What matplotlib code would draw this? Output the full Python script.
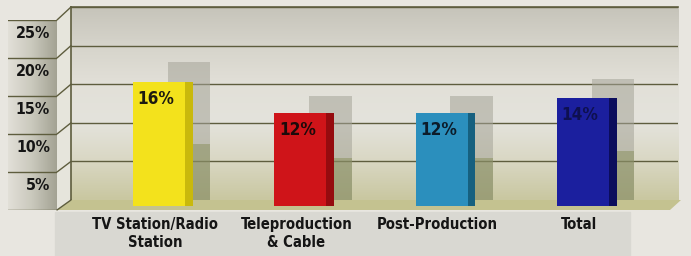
import numpy as np
import matplotlib
matplotlib.use("Agg")
import matplotlib.pyplot as plt
import matplotlib.font_manager as fm
from matplotlib import transforms
from matplotlib.colors import LinearSegmentedColormap
from matplotlib.patches import Polygon, Rectangle, ConnectionPatch

categories = ["TV Station/Radio\nStation", "Teleproduction\n& Cable", "Post-Production", "Total"]
values = [16, 12, 12, 14]
value_labels = ["16%", "12%", "12%", "14%"]
ytick_values = [5, 10, 15, 20, 25]
ytick_labels = ["5%", "10%", "15%", "20%", "25%"]

front_colors = ["#f3e21c", "#cf1419", "#2b8fbd", "#1b1f9e"]
side_colors = ["#c9b90c", "#950b0f", "#16607f", "#0b0d5c"]
label_colors = ["#1c1a10", "#1c0a0a", "#0c1c2a", "#0e1050"]

# narrow bold face if one is installed
_fonts = fm.fontManager.ttflist
_names = {f.name for f in _fonts}
if "Liberation Sans Narrow" in _names:
    FONT, STRETCH, SCALE = ["Liberation Sans Narrow", "DejaVu Sans"], "normal", 1.0
elif any(f.name == "DejaVu Sans" and str(f.stretch) in ("condensed", "semi-condensed") for f in _fonts):
    FONT, STRETCH, SCALE = ["DejaVu Sans"], "condensed", 0.95
else:
    FONT, STRETCH, SCALE = ["Liberation Sans", "DejaVu Sans"], "normal", 0.88

W, H = 691, 256
LINE = "#5e5d3e"


def box(x0, y0, x1, y1):
    return [x0 / W, 1 - y1 / H, (x1 - x0) / W, (y1 - y0) / H]


def pt(x, y):
    return (x / W, 1 - y / H)


def txt(size):
    return dict(fontsize=size * SCALE, fontweight="bold", family=FONT, fontstretch=STRETCH)


fig = plt.figure(figsize=(W / 100, H / 100), dpi=100, facecolor="#e8e6e0")

# band under the chart
fig.patches.append(Rectangle(pt(55, 256), (630 - 55) / W, 44 / H,
                             transform=fig.transFigure, color="#d9d8d2", zorder=-2))

# back wall
ax = fig.add_axes(box(71, 7, 678, 200))
wall = LinearSegmentedColormap.from_list(
    "wall", ["#c6c4ba", "#d6d4cb", "#e2e0d8", "#e4e3dc", "#d9d7c3", "#c9c7a0"])
ax.imshow(np.linspace(0, 1, 256).reshape(-1, 1), extent=[0, 1, 0, 1],
          transform=ax.transAxes, aspect="auto", cmap=wall, zorder=0)
x = np.arange(len(values))
ax.set_xlim(-0.623, 3.673)
ax.set_ylim(0, 25)
for v in ytick_values:
    ax.axhline(v, color=LINE, lw=1.0, zorder=1)

# floor
ax.add_patch(Polygon([pt(57, 210), pt(71, 200), pt(681, 200), pt(670, 210)],
                     transform=fig.transFigure, closed=True, clip_on=False,
                     facecolor="#c4c290", edgecolor="none", zorder=3))

# shadows behind bars
shadow_trans = transforms.Affine2D().scale(1, 1.12) + ax.transData + \
    transforms.Affine2D().translate(30, 0)
ax.bar(x, values, width=0.30, color="#a5a498", alpha=0.55,
       transform=shadow_trans, zorder=2)
low_trans = transforms.Affine2D().scale(1, 0.45) + ax.transData + \
    transforms.Affine2D().translate(30, 0)
ax.bar(x, values, width=0.30, color="#6f7a35", alpha=0.35,
       transform=low_trans, zorder=2)

# bars, drawn a little forward of the wall
bar_trans = ax.transData + transforms.Affine2D().translate(0, -6)
ax.bar(x, values, width=0.368, color=front_colors, transform=bar_trans,
       clip_on=False, zorder=4)
ax.bar(x + 0.184, values, width=0.055, align="edge", color=side_colors,
       transform=bar_trans, clip_on=False, zorder=4)

for xi, v, lab, c in zip(x, values, value_labels, label_colors):
    ax.annotate(lab, xy=(xi, v), xycoords=bar_trans, xytext=(-2, -12),
                textcoords="offset points", ha="center", va="center",
                color=c, zorder=5, **txt(13))

ax.set_xticks(x)
ax.set_xticklabels(categories, color="#151515", linespacing=1.3, **txt(11.2))
ax.tick_params(axis="x", length=0, pad=12)
for lab in ax.get_xticklabels():
    lab.set_transform(lab.get_transform() + transforms.Affine2D().translate(-4, 0))
ax.set_yticks([])
for s in ["right", "bottom"]:
    ax.spines[s].set_visible(False)
for s in ["left", "top"]:
    ax.spines[s].set_color(LINE)
    ax.spines[s].set_linewidth(1.2)

# left value panel
axl = fig.add_axes(box(8, 20, 57, 210))
panel = LinearSegmentedColormap.from_list("panel", ["#e2e0d8", "#c9c8bc", "#a3a293"])
axl.imshow(np.linspace(0, 1, 128).reshape(1, -1), extent=[0, 1, 0, 1],
           transform=axl.transAxes, aspect="auto", cmap=panel, zorder=0)
axl.set_xlim(0, 1)
axl.set_ylim(0, 25)
axl.axis("off")
blend_l = transforms.blended_transform_factory(axl.transAxes, axl.transData)
blend_r = transforms.blended_transform_factory(ax.transAxes, ax.transData)
for v in [0] + ytick_values:
    axl.axhline(v, color=LINE, lw=1.0, zorder=1)
for v, lab in zip(ytick_values, ytick_labels):
    axl.annotate(lab, xy=(1, v), xycoords=blend_l, xytext=(-5, -4),
                 textcoords="offset points", ha="right", va="top",
                 color="#151515", **txt(12))

# side wall joining panel and back wall
fig.patches.append(Polygon([pt(57, 20), pt(71, 7), pt(71, 200), pt(57, 210)],
                           transform=fig.transFigure, closed=True,
                           facecolor="#e6e5dc", edgecolor="none", zorder=-1))
for v in [0] + ytick_values:
    fig.add_artist(ConnectionPatch(xyA=(1, v), coordsA=blend_l,
                                   xyB=(0, v), coordsB=blend_r,
                                   color=LINE, lw=1.0))

fig.savefig("out.png", dpi=100, facecolor=fig.get_facecolor())
